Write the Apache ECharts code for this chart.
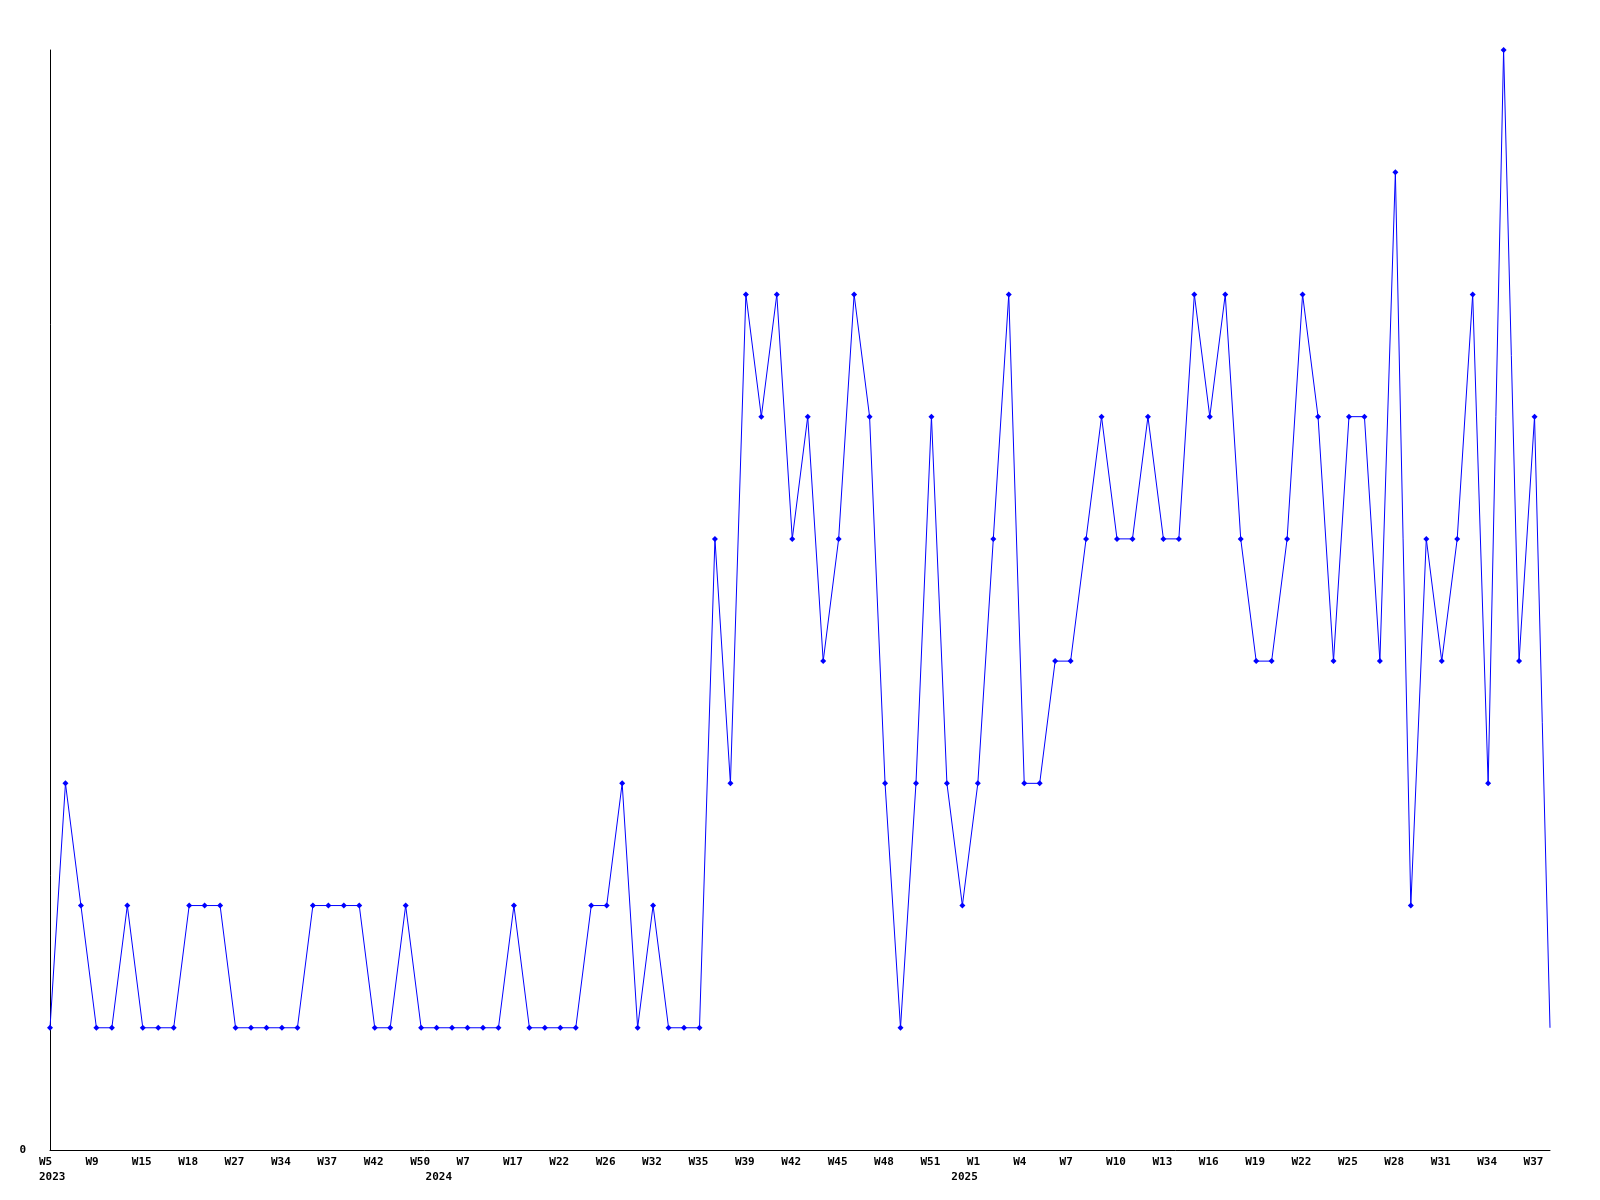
<!DOCTYPE html>
<html>
<head>
<meta charset="utf-8">
<script src="https://cdn.jsdelivr.net/npm/echarts@6/dist/echarts.min.js"></script>
<style>
html,body{margin:0;padding:0;background:#fff;}
#chart{width:1600px;height:1200px;}
</style>
</head>
<body>
<div id="chart"></div>
<script>
// Week numbers per year (one entry per data point)
const weeks2023 = [5,6,8,9,11,13,15,16,17,18,20,24,27,29,32,34,35,36,37,39,40,42,44,47,50];
const weeks2024 = [1,4,7,10,14,17,19,20,22,23,25,26,28,30,32,33,34,35,36,38,39,40,41,42,43,44,45,46,47,48,49,50,51,52];
const weeks2025 = [0,1,2,3,4,5,6,7,8,9,10,11,12,13,14,15,16,17,18,19,20,21,22,23,24,25,26,27,28,29,30,31,32,33,34,35,36,37,38];
// Series values
const values2023 = [1,3,2,1,1,2,1,1,1,2,2,2,1,1,1,1,1,2,2,2,2,1,1,2,1];
const values2024 = [1,1,1,1,1,2,1,1,1,1,2,2,3,1,2,1,1,1,5,3,7,6,7,5,6,4,5,7,6,3,1,3,6,3];
const values2025 = [2,3,5,7,3,3,4,4,5,6,5,5,6,5,5,7,6,7,5,4,4,5,7,6,4,6,6,4,8,2,5,4,5,7,3,9,4,6,1];
const yTickLabels = ['0'];

const categories = [];
const years = [];
const values = [];
[[2023, weeks2023, values2023], [2024, weeks2024, values2024], [2025, weeks2025, values2025]].forEach(([y, w, v]) => {
  w.forEach((wk, i) => { categories.push(y + '-W' + wk); years.push(y); values.push(v[i]); });
});
// last point is drawn without a marker, as in the reference
const seriesData = values.map((v, i) => i === values.length - 1 ? { value: v, symbol: 'none' } : v);

const font = { fontFamily: 'DejaVu Sans Mono', fontWeight: 'bold', fontSize: 11, color: '#000' };

const chart = echarts.init(document.getElementById('chart'), null, { renderer: 'canvas' });
chart.setOption({
  animation: false,
  backgroundColor: '#fff',
  grid: { left: 50, right: 50, top: 50, bottom: 50, containLabel: false },
  xAxis: [
    {
      type: 'category',
      data: categories,
      boundaryGap: false,
      axisLine: { show: true, lineStyle: { color: '#000', width: 1 } },
      axisTick: { show: false },
      splitLine: { show: false },
      axisLabel: {
        interval: 2,
        margin: 7,
        formatter: (v) => '{w|' + v.split('-')[1] + '}',
        rich: { w: Object.assign({ width: 22, align: 'left' }, font) }
      }
    },
    {
      type: 'category',
      data: categories,
      boundaryGap: false,
      position: 'bottom',
      axisLine: { show: false },
      axisTick: { show: false },
      splitLine: { show: false },
      axisLabel: {
        interval: 0,
        margin: 22,
        formatter: (v, i) => (i === 0 || years[i] !== years[i - 1]) ? '{y|' + years[i] + '}' : '',
        rich: { y: Object.assign({ width: 22, align: 'left' }, font) }
      }
    }
  ],
  yAxis: {
    type: 'value',
    min: 0,
    max: 9,
    interval: 9,
    axisLine: { show: true, lineStyle: { color: '#000', width: 1 } },
    axisTick: { show: false },
    splitLine: { show: false },
    axisLabel: Object.assign({
      margin: 24,
      formatter: (v) => yTickLabels.indexOf(String(v)) >= 0 ? String(v) : ''
    }, font)
  },
  series: [{
    type: 'line',
    xAxisIndex: 0,
    data: seriesData,
    lineStyle: { color: '#0000ff', width: 1 },
    itemStyle: { color: '#0000ff' },
    symbol: 'diamond',
    symbolSize: 6,
    showAllSymbol: true
  }]
});
</script>
</body>
</html>
